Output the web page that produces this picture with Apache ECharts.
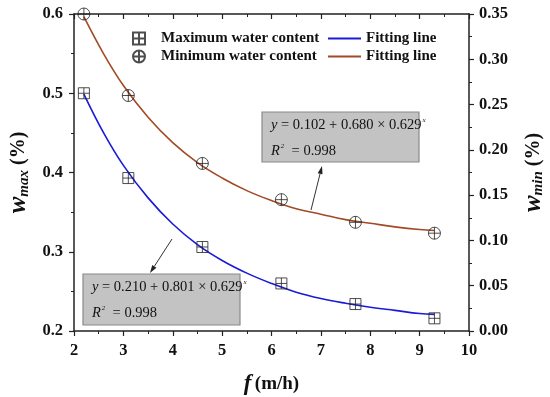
<!DOCTYPE html>
<html><head><meta charset="utf-8">
<script src="https://cdn.jsdelivr.net/npm/echarts@6/dist/echarts.min.js"></script>
<style>html,body{margin:0;padding:0;background:#fff}#c{width:550px;height:397px}</style>
</head><body><div id="c"></div>
<script>
// measured data
const fValues = [2.2, 3.1, 4.6, 6.2, 7.7, 9.3];
const wMax = [0.500, 0.393, 0.306, 0.260, 0.234, 0.216];
const wMin = [0.350, 0.260, 0.185, 0.145, 0.120, 0.108];
// fitting curves
const fitX = [2.2, 2.6, 3.0, 3.5, 4.0, 4.5, 5.0, 5.5, 6.0, 6.5, 7.0, 7.5, 8.0, 8.5, 9.0, 9.3];
const fitMax = [0.499, 0.450, 0.409, 0.368, 0.335, 0.309, 0.289, 0.273, 0.260, 0.249, 0.241, 0.235, 0.230, 0.226, 0.222, 0.221];
const fitMin = [0.347, 0.306, 0.271, 0.236, 0.208, 0.186, 0.169, 0.155, 0.144, 0.135, 0.129, 0.123, 0.119, 0.115, 0.112, 0.111];
const xTicks = [2, 3, 4, 5, 6, 7, 8, 9, 10];
const leftTicks = ['0.2', '0.3', '0.4', '0.5', '0.6'];
const rightTicks = ['0.00', '0.05', '0.10', '0.15', '0.20', '0.25', '0.30', '0.35'];

const FONT = '"Liberation Serif", "Times New Roman", serif';
const BLUE = '#1a1ad8';
const BROWN = '#a24a26';
const AX = '#222';
const sqSym = 'path://M0,0H10V10H0Z M5,0V10 M0,5H10';
const ciSym = 'path://M0,5A5,5 0 1,1 10,5A5,5 0 1,1 0,5Z M5,0V10 M0,5H10';

const zip = (a, b) => a.map((v, i) => [v, b[i]]);
const chart = echarts.init(document.getElementById('c'));

const axisCommon = {
  axisLine: { show: true, lineStyle: { color: AX, width: 1.5 } },
  axisTick: { show: true, length: 5, lineStyle: { color: AX, width: 1.2 } },
  minorTick: { show: true, splitNumber: 2, length: 3, lineStyle: { color: AX, width: 1 } },
  splitLine: { show: false },
  axisLabel: { fontFamily: FONT, fontWeight: 'bold', fontSize: 16.5, color: '#111' }
};

function arrow(x1, y1, x2, y2) {
  const dx = x2 - x1, dy = y2 - y1, L = Math.hypot(dx, dy);
  const ux = dx / L, uy = dy / L, px = -uy, py = ux;
  const bx = x2 - 8 * ux, by = y2 - 8 * uy;
  return [
    { type: 'line', shape: { x1, y1, x2: bx, y2: by }, style: { stroke: '#333', lineWidth: 1 }, z: 100 },
    { type: 'polygon', shape: { points: [[x2, y2], [bx + 2.5 * px, by + 2.5 * py], [bx - 2.5 * px, by - 2.5 * py]] }, style: { fill: '#222' }, z: 100 }
  ];
}
function box(x, y, w, h, a, b) {
  const rich = {
    i: { fontFamily: FONT, fontStyle: 'italic', fontSize: 14.5, fill: '#111' },
    n: { fontFamily: FONT, fontSize: 14.5, fill: '#111' },
    s: { fontFamily: FONT, fontStyle: 'italic', fontSize: 7, fill: '#111', verticalAlign: 'top', padding: [0, 0, 10, 1] }
  };
  return [
    { type: 'rect', shape: { x, y, width: w, height: h }, style: { fill: '#c3c3c3', stroke: '#8a8a8a', lineWidth: 1.2 }, z: 90 },
    { type: 'text', x: x + 9, y: y + 13, style: { text: '{i|y}{n| = ' + a + ' + ' + b + ' × 0.629}{s|x}', rich, verticalAlign: 'middle' }, z: 95 },
    { type: 'text', x: x + 9, y: y + 39, style: { text: '{i|R}{s|2}{n|  = 0.998}', rich, verticalAlign: 'middle' }, z: 95 }
  ];
}
const nameRich = () => ({
  w: { fontFamily: FONT, fontStyle: 'italic', fontWeight: 'bold', fontSize: 25, color: '#111' },
  sub: { fontFamily: FONT, fontStyle: 'italic', fontWeight: 'bold', fontSize: 15, color: '#111', verticalAlign: 'bottom', padding: [9, 0, 0, 0] },
  u: { fontFamily: FONT, fontWeight: 'bold', fontSize: 20, color: '#111' }
});

chart.setOption({
  animation: false,
  backgroundColor: '#fff',
  grid: { left: 74, right: 81, top: 14, bottom: 66, containLabel: false, outerBoundsMode: 'none' },
  xAxis: [
    Object.assign({}, axisCommon, {
      type: 'value', min: 2, max: 10, interval: 1, position: 'bottom',
      axisLabel: Object.assign({}, axisCommon.axisLabel, { margin: 11 }),
      name: '{f|f} {u|(m/h)}', nameLocation: 'middle', nameGap: 42,
      nameTextStyle: { rich: {
        f: { fontFamily: FONT, fontStyle: 'italic', fontWeight: 'bold', fontSize: 23, color: '#111' },
        u: { fontFamily: FONT, fontWeight: 'bold', fontSize: 19, color: '#111' } } }
    }),
    Object.assign({}, axisCommon, {
      type: 'value', min: 2, max: 10, interval: 1, position: 'top',
      axisTick: Object.assign({}, axisCommon.axisTick, { inside: true }),
      minorTick: Object.assign({}, axisCommon.minorTick, { show: true }),
      axisLabel: { show: false }
    })
  ],
  yAxis: [
    Object.assign({}, axisCommon, {
      type: 'value', min: 0.2, max: 0.6, interval: 0.1, position: 'left',
      axisLabel: Object.assign({}, axisCommon.axisLabel, { margin: 11, formatter: v => leftTicks[Math.round((v - 0.2) / 0.1)] }),
      name: '{w|w}{sub|max}{u| (%)}', nameLocation: 'middle', nameGap: 40, nameRotate: 90,
      nameTextStyle: { rich: nameRich() }
    }),
    Object.assign({}, axisCommon, {
      type: 'value', min: 0, max: 0.35, interval: 0.05, position: 'right',
      axisLabel: Object.assign({}, axisCommon.axisLabel, { margin: 10, formatter: v => rightTicks[Math.round(v / 0.05)] }),
      name: '{w|w}{sub|min}{u| (%)}', nameLocation: 'middle', nameGap: 52, nameRotate: 90,
      nameTextStyle: { rich: nameRich() }
    })
  ],
  legend: [
    { orient: 'vertical', left: 127, top: 26, itemGap: 3, itemWidth: 12, itemHeight: 12,
      data: [{ name: 'Maximum water content', icon: sqSym }, { name: 'Minimum water content', icon: ciSym }],
      textStyle: { fontFamily: FONT, fontWeight: 'bold', fontSize: 15, color: '#111', padding: [0, 0, 0, 11] } },
    { orient: 'vertical', left: 323, top: 26, itemGap: 3, itemWidth: 33, itemHeight: 2,
      data: [{ name: 'Fitting line (max)', icon: 'rect' }, { name: 'Fitting line (min)', icon: 'rect' }],
      formatter: () => 'Fitting line',
      textStyle: { fontFamily: FONT, fontWeight: 'bold', fontSize: 15, color: '#111' } }
  ],
  series: [
    { name: 'Fitting line (max)', type: 'line', xAxisIndex: 0, yAxisIndex: 0, data: zip(fitX, fitMax), smooth: 0.4, showSymbol: false, symbol: 'none',
      lineStyle: { color: BLUE, width: 1.6 }, itemStyle: { color: BLUE }, z: 2 },
    { name: 'Fitting line (min)', type: 'line', xAxisIndex: 0, yAxisIndex: 1, data: zip(fitX, fitMin), smooth: 0.4, showSymbol: false, symbol: 'none',
      lineStyle: { color: BROWN, width: 1.6 }, itemStyle: { color: BROWN }, z: 2 },
    { name: 'Maximum water content', type: 'scatter', xAxisIndex: 0, yAxisIndex: 0, data: zip(fValues, wMax), symbol: sqSym, symbolSize: 11,
      itemStyle: { color: 'rgba(0,0,0,0)', borderColor: '#222', borderWidth: 1 }, z: 5 },
    { name: 'Minimum water content', type: 'scatter', xAxisIndex: 0, yAxisIndex: 1, data: zip(fValues, wMin), symbol: ciSym, symbolSize: 12,
      itemStyle: { color: 'rgba(0,0,0,0)', borderColor: '#222', borderWidth: 1 }, z: 5 }
  ],
  graphic: [].concat(
    box(262, 112, 157, 50, '0.102', '0.680'),
    box(83, 274, 157, 51, '0.210', '0.801'),
    arrow(311, 210, 322, 166),
    arrow(172, 239, 150, 273)
  )
});
</script></body></html>
